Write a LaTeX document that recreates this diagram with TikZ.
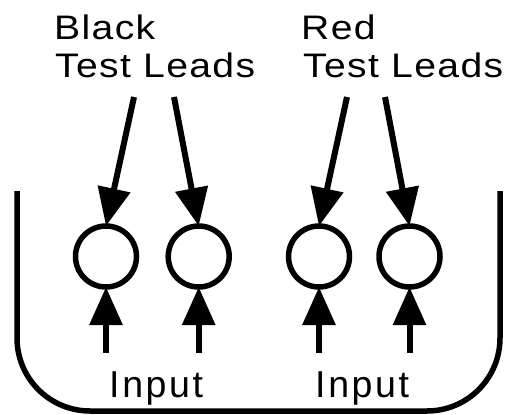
\documentclass[tikz,border=0pt]{standalone}
\usepackage{fontspec}
\setmainfont{Liberation Sans}
\newfontfamily\topfont[FakeStretch=1.15,LetterSpace=4]{Liberation Sans}
\newfontfamily\inpfont[LetterSpace=7]{Liberation Sans}
\usetikzlibrary{arrows.meta}
\begin{document}
\begin{tikzpicture}[x=1pt,y=-1pt,
  jack/.style={circle,draw,line width=5.5pt,minimum size=61pt,inner sep=0pt,outer sep=0pt},
  lead/.style={line width=6pt,-{Triangle[length=38pt,width=32pt]}},
  toplbl/.style={anchor=base west,inner sep=0pt,font=\topfont\fontsize{34}{40}\selectfont},
  inlbl/.style={anchor=base west,inner sep=0pt,font=\inpfont\fontsize{37.5}{44}\selectfont}]
\useasboundingbox (0,0) rectangle (509,415);
% housing
\draw[line width=5.5pt,rounded corners=73pt] (17,191) -- (17,411) -- (500,411) -- (500,191);
% jacks
\node[jack] (c1) at (106,256.5) {};
\node[jack] (c2) at (198.7,256.5) {};
\node[jack] (c3) at (319,256.5) {};
\node[jack] (c4) at (409.5,256.5) {};
% labels
\node[toplbl] (black) at (54,39) {Black};
\node[toplbl] (btl) at (55,77) {Test Leads};
\node[toplbl] (red) at (301,39) {Red};
\node[toplbl] (rtl) at (303,77) {Test Leads};
\node[inlbl] (in1) at (109,397) {Input};
\node[inlbl] (in2) at (315,397) {Input};
% lead arrows
\coordinate (s1) at (134,97);
\coordinate (s2) at (174,97);
\coordinate (s3) at (347,97);
\coordinate (s4) at (385,97);
\draw[lead] (s1) -- (c1.north);
\draw[lead] (s2) -- (c2.north);
\draw[lead] (s3) -- (c3.north);
\draw[lead] (s4) -- (c4.north);
% input arrows
\coordinate (i1) at (106,353);
\coordinate (i2) at (198.7,353);
\coordinate (i3) at (319,353);
\coordinate (i4) at (409.5,353);
\draw[lead] (i1) -- (c1.south);
\draw[lead] (i2) -- (c2.south);
\draw[lead] (i3) -- (c3.south);
\draw[lead] (i4) -- (c4.south);
\end{tikzpicture}
\end{document}
